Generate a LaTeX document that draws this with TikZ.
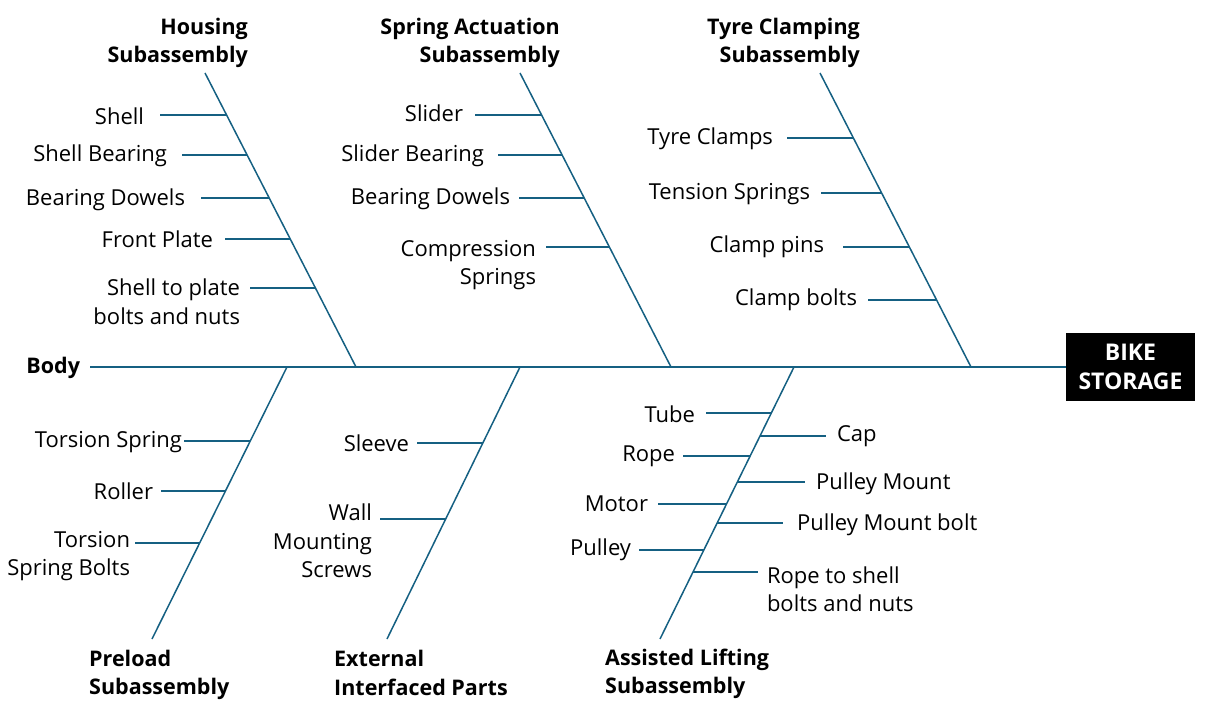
\documentclass[tikz,border=0pt]{standalone}
\usepackage{fontspec}
\setmainfont{Open Sans}
\usepackage{tikz}
\usetikzlibrary{positioning}
\definecolor{bonecol}{HTML}{156082}

\begin{document}
\begin{tikzpicture}[x=1pt,y=-1pt]
\tikzstyle{part} = [inner sep=0pt, outer xsep=10pt, font=\fontsize{22}{28.5}\selectfont]
\tikzstyle{group} = [inner sep=0pt, font=\fontsize{21.5}{28.5}\selectfont\bfseries]
\tikzstyle{bone} = [draw=bonecol, line width=1.5pt]
%\tikzstyle{twig} = [draw=bonecol, line width=1pt]
\useasboundingbox (0,0) rectangle (1205,708);

% head and spine
\node[group, font=\fontsize{23}{28.5}\selectfont\bfseries, fill=black, text=white, align=center, minimum width=129pt, minimum height=68pt] (store) at (1130.5,367) {BIKE\\STORAGE};
\node[group, anchor=east, outer xsep=10pt] (body) at (90,368) {Body};
\draw[bone] (body.east |- store.west) -- (store.west);

% Housing
\coordinate (htop) at (205,73);
\coordinate (hbot) at (356,367);
\node[group, anchor=east, align=right] (housing) at (248,43) {Housing\\Subassembly};
\draw[bone] (htop) -- coordinate[pos=.143] (h1) coordinate[pos=.279] (h2) coordinate[pos=.425] (h3) coordinate[pos=.565] (h4) coordinate[pos=.731] (h5) (hbot);
\node[part, anchor=east, outer xsep=16pt] (shell) at (160,116) {Shell};
\node[part, anchor=east, outer xsep=15pt] (shellbr) at (182,156) {Shell Bearing};
\node[part, anchor=east, outer xsep=16pt] (hdowel) at (201,200) {Bearing Dowels};
\node[part, anchor=east, outer xsep=12pt] (front) at (225,239) {Front Plate};
\node[part, anchor=east, align=right] (platebolt) at (250,302) {Shell to plate\\bolts and nuts};
\draw[bone] (h1) -- (h1 -| shell.east);
\draw[bone] (h2) -- (h2 -| shellbr.east);
\draw[bone] (h3) -- (h3 -| hdowel.east);
\draw[bone] (h4) -- (h4 -| front.east);
\draw[bone] (h5) -- (h5 -| platebolt.east);

% Spring actuation
\coordinate (stop) at (520,73);
\coordinate (sbot) at (671,367);
\node[group, anchor=east, align=right] (spring) at (560,43) {Spring Actuation\\Subassembly};
\draw[bone] (stop) -- coordinate[pos=.143] (s1) coordinate[pos=.279] (s2) coordinate[pos=.425] (s3) coordinate[pos=.592] (s4) (sbot);
\node[part, anchor=east, outer xsep=12pt] (slider) at (475,113) {Slider};
\node[part, anchor=east, outer xsep=14pt] (sliderbr) at (498,156) {Slider Bearing};
\node[part, anchor=east, outer xsep=9pt] (sdowel) at (519,199) {Bearing Dowels};
\node[part, anchor=east, align=right] (compr) at (546,265) {Compression\\Springs};
\draw[bone] (s1) -- (s1 -| slider.east);
\draw[bone] (s2) -- (s2 -| sliderbr.east);
\draw[bone] (s3) -- (s3 -| sdowel.east);
\draw[bone] (s4) -- (s4 -| compr.east);

% Tyre clamping
\coordinate (ttop) at (820,73);
\coordinate (tbot) at (971,367);
\node[group, anchor=east, align=right] (tyre) at (860,43) {Tyre Clamping\\Subassembly};
\draw[bone] (ttop) -- coordinate[pos=.221] (t1) coordinate[pos=.408] (t2) coordinate[pos=.592] (t3) coordinate[pos=.772] (t4) (tbot);
\node[part, anchor=east, outer xsep=14pt] (clamps) at (787,139) {Tyre Clamps};
\node[part, anchor=east, outer xsep=11pt] (tension) at (821,194) {Tension Springs};
\node[part, anchor=east, outer xsep=19pt] (pins) at (843,247) {Clamp pins};
\node[part, anchor=east, outer xsep=11pt] (cbolts) at (868,300) {Clamp bolts};
\draw[bone] (t1) -- (t1 -| clamps.east);
\draw[bone] (t2) -- (t2 -| tension.east);
\draw[bone] (t3) -- (t3 -| pins.east);
\draw[bone] (t4) -- (t4 -| cbolts.east);

% Preload
\coordinate (ptop) at (287,367);
\coordinate (pbot) at (152,639);
\node[group, anchor=west, align=left] (preload) at (89,675) {Preload\\Subassembly};
\draw[bone] (ptop) -- coordinate[pos=.272] (p1) coordinate[pos=.456] (p2) coordinate[pos=.647] (p3) (pbot);
\node[part, anchor=east, outer xsep=2pt] (torsion) at (184,442) {Torsion Spring};
\node[part, anchor=east, outer xsep=8pt] (roller) at (161,491) {Roller};
\node[part, anchor=east, align=right, outer xsep=5pt] (tbolts) at (135,556) {Torsion\\Spring Bolts};
\draw[bone] (p1) -- (p1 -| torsion.east);
\draw[bone] (p2) -- (p2 -| roller.east);
\draw[bone] (p3) -- (p3 -| tbolts.east);

% External
\coordinate (etop) at (520,367);
\coordinate (ebot) at (387,639);
\node[group, anchor=west, align=left] (external) at (334,673) {External\\Interfaced Parts};
\draw[bone] (etop) -- coordinate[pos=.279] (e1) coordinate[pos=.559] (e2) (ebot);
\node[part, anchor=east, outer xsep=8pt] (sleeve) at (417,443) {Sleeve};
\node[part, anchor=east, align=right, outer xsep=8pt] (screws) at (380,541) {Wall\\Mounting\\Screws};
\draw[bone] (e1) -- (e1 -| sleeve.east);
\draw[bone] (e2) -- (e2 -| screws.east);

% Assisted lifting
\coordinate (atop) at (794,367);
\coordinate (abot) at (660,639);
\node[group, anchor=west, align=left] (lifting) at (605,674) {Assisted Lifting\\Subassembly};
\draw[bone] (atop) -- coordinate[pos=.169] (a1) coordinate[pos=.254] (a2) coordinate[pos=.327] (a3) coordinate[pos=.423] (a4) coordinate[pos=.504] (a5) coordinate[pos=.574] (a6) coordinate[pos=.673] (a7) coordinate[pos=.754] (a8) (abot);
\node[part, anchor=east, outer xsep=11pt] (tube) at (706,414) {Tube};
\node[part, anchor=east, outer xsep=8pt] (rope) at (683,456) {Rope};
\node[part, anchor=east, outer xsep=10pt] (motor) at (658,504) {Motor};
\node[part, anchor=east, outer xsep=8pt] (pulley) at (639,550) {Pulley};
\node[part, anchor=west, outer xsep=11pt] (cap) at (826,436) {Cap};
\node[part, anchor=west, outer xsep=11pt] (pmount) at (805,484) {Pulley Mount};
\node[part, anchor=west, outer xsep=14pt] (pmbolt) at (783,525) {Pulley Mount bolt};
\node[part, anchor=west, align=left, outer xsep=9pt] (ropebolt) at (758,589) {Rope to shell\\bolts and nuts};
\draw[bone] (a1) -- (a1 -| tube.east);
\draw[bone] (a2) -- (a2 -| cap.west);
\draw[bone] (a3) -- (a3 -| rope.east);
\draw[bone] (a4) -- (a4 -| pmount.west);
\draw[bone] (a5) -- (a5 -| motor.east);
\draw[bone] (a6) -- (a6 -| pmbolt.west);
\draw[bone] (a7) -- (a7 -| pulley.east);
\draw[bone] (a8) -- (a8 -| ropebolt.west);
\end{tikzpicture}
\end{document}
